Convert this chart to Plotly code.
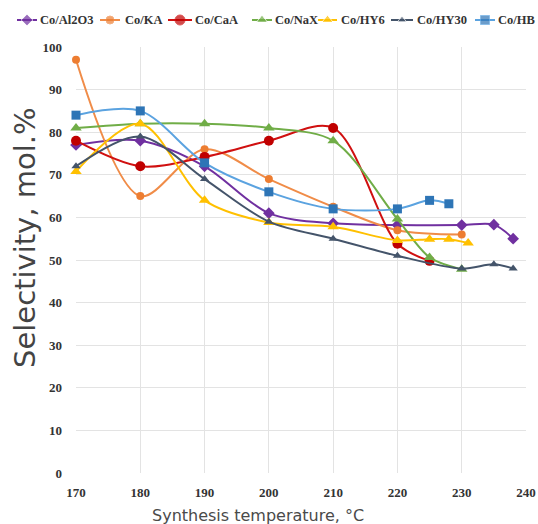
import plotly.graph_objects as go

names = ["Co/Al2O3", "Co/KA", "Co/CaA", "Co/NaX", "Co/HY6", "Co/HY30", "Co/HB"]

x_al2o3 = [170, 180, 190, 200, 210, 220, 230, 235, 238]
y_al2o3 = [77, 78, 72, 61, 58.6, 58.2, 58.2, 58.3, 55]

x_ka = [170, 180, 190, 200, 210, 220, 230]
y_ka = [97, 65, 76, 69, 62.5, 57, 56]

x_caa = [170, 180, 190, 200, 210, 220, 225]
y_caa = [78, 72, 74.2, 78, 81, 53.8, 49.8]

x_nax = [170, 180, 190, 200, 210, 220, 225, 230]
y_nax = [81, 82, 82, 81, 78, 59.6, 50.6, 47.8]

x_hy6 = [170, 180, 190, 200, 210, 220, 225, 228, 231]
y_hy6 = [70.8, 82, 64, 58.8, 57.8, 54.6, 54.9, 54.9, 54]

x_hy30 = [170, 180, 190, 200, 210, 220, 230, 235, 238]
y_hy30 = [72, 79, 69, 59, 55, 51, 48, 49, 48]

x_hb = [170, 180, 190, 200, 210, 220, 225, 228]
y_hb = [84, 85, 72.8, 66, 62, 62, 64, 63.2]

x_ticks = [170, 180, 190, 200, 210, 220, 230, 240]
y_ticks = [0, 10, 20, 30, 40, 50, 60, 70, 80, 90, 100]

x_title = "Synthesis temperature, °C"
y_title = "Selectivity, mol.%"

# styles: line colour, marker colour, symbol, size
styles = [
    ("#7030A0", "#7030A0", "diamond", 9),
    ("#F08C48", "#ED7D31", "circle", 8),
    ("#D01010", "#C00000", "circle", 10),
    ("#70AD47", "#70AD47", "triangle-up", 10),
    ("#FFC000", "#FFC000", "triangle-up", 10),
    ("#44546A", "#44546A", "triangle-up", 8),
    ("#5BA3E0", "#2E75B6", "square", 9),
]
data = [(x_al2o3, y_al2o3), (x_ka, y_ka), (x_caa, y_caa), (x_nax, y_nax),
        (x_hy6, y_hy6), (x_hy30, y_hy30), (x_hb, y_hb)]

W, H = 538, 524
plot_l, plot_r, plot_t, plot_b = 76, 526, 47, 473

fig = go.Figure()
for name, (xs, ys), (lc, mc, sym, sz) in zip(names, data, styles):
    fig.add_trace(go.Scatter(
        x=xs, y=ys, name=name, mode="lines+markers", showlegend=False,
        cliponaxis=False,
        line=dict(color=lc, width=2, shape="spline", smoothing=0.9),
        marker=dict(color=mc, symbol=sym, size=sz),
    ))

# custom compact legend (pixel layout on an invisible full-figure axis pair)
leg_y = 20
leg_lines = [(17, 37), (100, 120), (168, 192), (252, 272), (318, 337), (391, 413), (475, 495)]
leg_text_x = [38, 123, 193, 273, 339, 415, 496]
serif = "Liberation Serif"
annotations = []
for name, (l0, l1), tx, (lc, mc, sym, sz) in zip(names, leg_lines, leg_text_x, styles):
    fig.add_trace(go.Scatter(
        x=[l0, (l0 + l1) / 2, l1], y=[leg_y] * 3, xaxis="x2", yaxis="y2",
        mode="lines+markers", showlegend=False, hoverinfo="skip",
        line=dict(color=lc, width=2),
        marker=dict(color=mc, symbol=sym, size=[0, sz, 0]),
    ))
    annotations.append(dict(
        x=tx, y=leg_y, xref="x2", yref="y2", text=name, showarrow=False,
        xanchor="left", yanchor="middle",
        font=dict(family=serif, size=12.5, color="#333333", weight="bold"),
    ))

annotations.append(dict(
    x=258 / W, y=1 - 515 / H, xref="paper", yref="paper", text=x_title,
    showarrow=False, xanchor="center", yanchor="middle",
    font=dict(family="DejaVu Sans", size=16, color="#4a4a4a"),
))
annotations.append(dict(
    x=25 / W, y=1 - 238 / H, xref="paper", yref="paper", text=y_title,
    showarrow=False, xanchor="center", yanchor="middle", textangle=-90,
    font=dict(family="DejaVu Sans", size=29, color="#444444"),
))

tickfont = dict(family=serif, size=13, color="#333333", weight="bold")
fig.update_layout(
    width=W, height=H,
    margin=dict(l=0, r=0, t=0, b=0, autoexpand=False),
    paper_bgcolor="white", plot_bgcolor="rgba(0,0,0,0)",
    showlegend=False,
    xaxis=dict(domain=[plot_l / W, plot_r / W], range=[170, 240], tickvals=x_ticks,
               showgrid=True, gridcolor="#E3E3E3", gridwidth=1.2,
               zeroline=False, showline=False, ticks="", automargin=False,
               tickfont=tickfont, ticklabelstandoff=10, anchor="y"),
    yaxis=dict(domain=[1 - plot_b / H, 1 - plot_t / H], range=[0, 100], tickvals=y_ticks,
               showgrid=True, gridcolor="#E3E3E3", gridwidth=1.2,
               zeroline=False, showline=False, ticks="", automargin=False,
               tickfont=tickfont, ticklabelstandoff=13, anchor="x"),
    xaxis2=dict(domain=[0, 1], range=[0, W], visible=False, anchor="y2",
                fixedrange=True, automargin=False),
    yaxis2=dict(domain=[0, 1], range=[H, 0], visible=False, anchor="x2",
                fixedrange=True, automargin=False),
    annotations=annotations,
)

fig.write_html("out.html")
